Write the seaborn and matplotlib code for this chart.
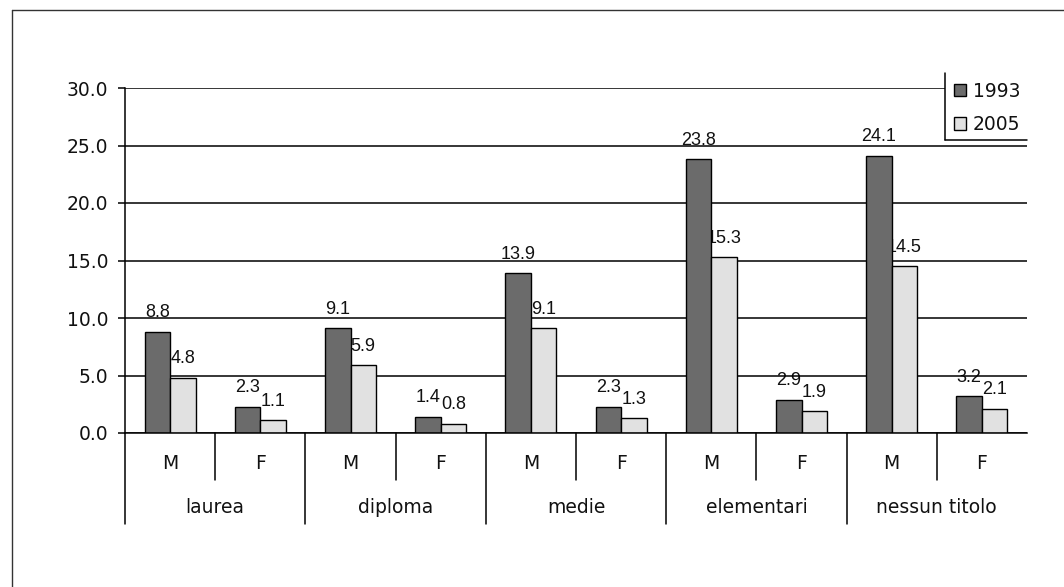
import matplotlib
matplotlib.use("Agg")
import matplotlib.pyplot as plt
import matplotlib.patches as mpatches
from matplotlib.lines import Line2D
import pandas as pd
import seaborn as sns

# Education level groups and sex sub-categories
levels = ["laurea", "diploma", "medie", "elementari", "nessun titolo"]
sexes = ["M", "F"]
years = ["1993", "2005"]

# Values per (level, sex) slot, in order M, F for each level
values_1993 = [8.8, 2.3, 9.1, 1.4, 13.9, 2.3, 23.8, 2.9, 24.1, 3.2]
values_2005 = [4.8, 1.1, 5.9, 0.8, 9.1, 1.3, 15.3, 1.9, 14.5, 2.1]

slot_labels = [s for _ in levels for s in sexes]
slots = list(range(len(slot_labels)))

df = pd.DataFrame({
    "slot": slots * 2,
    "value": values_1993 + values_2005,
    "year": [years[0]] * len(slots) + [years[1]] * len(slots),
})

sns.set_theme(style="white")
plt.rcParams["font.family"] = ["DejaVu Sans"]

AXIS_FONT = 13.5
VALUE_FONT = 13
colors = {"1993": "#6b6b6b", "2005": "#e1e1e1"}

fig = plt.figure(figsize=(10.64, 5.87), dpi=100)
ax = fig.add_axes([125 / 1064, 1 - 433 / 587, 902 / 1064, 345 / 587])

sns.barplot(data=df, x="slot", y="value", hue="year", order=slots,
            hue_order=years, palette=colors, width=0.565,
            edgecolor="black", linewidth=1.0, ax=ax, legend=False,
            zorder=3)

for cont in ax.containers:
    ax.bar_label(cont, fmt="%.1f", padding=7.5, fontsize=VALUE_FONT,
                 color="#111111", family="Liberation Sans", zorder=2)

ax.set_xlim(-0.5, len(slots) - 0.5)
ax.set_ylim(0, 30)
yticks = [0, 5, 10, 15, 20, 25, 30]
ax.set_yticks(yticks)
ax.set_yticklabels([f"{v:.1f}" for v in yticks])
ax.yaxis.grid(True, color="black", linewidth=1.1)
ax.set_axisbelow(False)
for gl in ax.get_ygridlines():
    gl.set_zorder(4)
ax.set_xticks(slots)
ax.set_xticklabels(slot_labels)
ax.set_xlabel("")
ax.set_ylabel("")

ax.tick_params(axis="y", length=5, width=1.1, color="black", direction="out",
               pad=7, labelsize=AXIS_FONT, labelcolor="#111111", left=True)
ax.tick_params(axis="x", length=0, pad=15, labelsize=AXIS_FONT,
               labelcolor="#111111", bottom=False)

for side in ["top", "right"]:
    ax.spines[side].set_visible(False)
for side in ["left", "bottom"]:
    ax.spines[side].set_color("black")
    ax.spines[side].set_linewidth(1.1)
    ax.spines[side].set_zorder(5)

# Category separators below the axis
xt = ax.get_xaxis_transform()
for k in range(len(levels)):
    mid = 2 * k + 0.5
    ax.add_line(Line2D([mid, mid], [0, -0.136], transform=xt, color="black",
                       linewidth=1.1, clip_on=False))
    start = 2 * k - 0.5
    ax.add_line(Line2D([start, start], [0, -0.264], transform=xt,
                       color="black", linewidth=1.1, clip_on=False))
    ax.text(2 * k + 0.5, -0.217, levels[k], transform=xt, ha="center",
            va="center", fontsize=AXIS_FONT, color="#111111")

# Legend box in the upper right corner
lx, ly_bot, ly_top = 0.909, 0.849, 1.0435
ax.add_patch(mpatches.Rectangle((lx, ly_bot), 1.0 - lx, ly_top - ly_bot,
                                transform=ax.transAxes, facecolor="white",
                                edgecolor="none", clip_on=False, zorder=6))
ax.add_line(Line2D([lx, lx], [ly_bot, ly_top], transform=ax.transAxes,
                   color="black", linewidth=1.1, clip_on=False, zorder=7))
ax.add_line(Line2D([lx, 1.0], [ly_bot, ly_bot], transform=ax.transAxes,
                   color="black", linewidth=1.1, clip_on=False, zorder=7))
handles = [mpatches.Patch(facecolor=colors[y], edgecolor="black",
                          linewidth=1.0) for y in years]
leg = ax.legend(handles, years, loc="upper left",
                bbox_to_anchor=(0.919, 1.018), frameon=False,
                fontsize=AXIS_FONT, handlelength=0.64, handleheight=0.64,
                handletextpad=0.37, labelspacing=0.76, borderpad=0.0,
                borderaxespad=0.0)
for t in leg.get_texts():
    t.set_color("#111111")
leg.set_zorder(8)

# Outer chart frame
fig.add_artist(Line2D([12 / 1064, 1.0], [1 - 10 / 587, 1 - 10 / 587],
                      transform=fig.transFigure, color="#333333",
                      linewidth=1.0))
fig.add_artist(Line2D([12 / 1064, 12 / 1064], [0.0, 1 - 10 / 587],
                      transform=fig.transFigure, color="#333333",
                      linewidth=1.0))

fig.savefig("out.png", dpi=100, facecolor="white")
